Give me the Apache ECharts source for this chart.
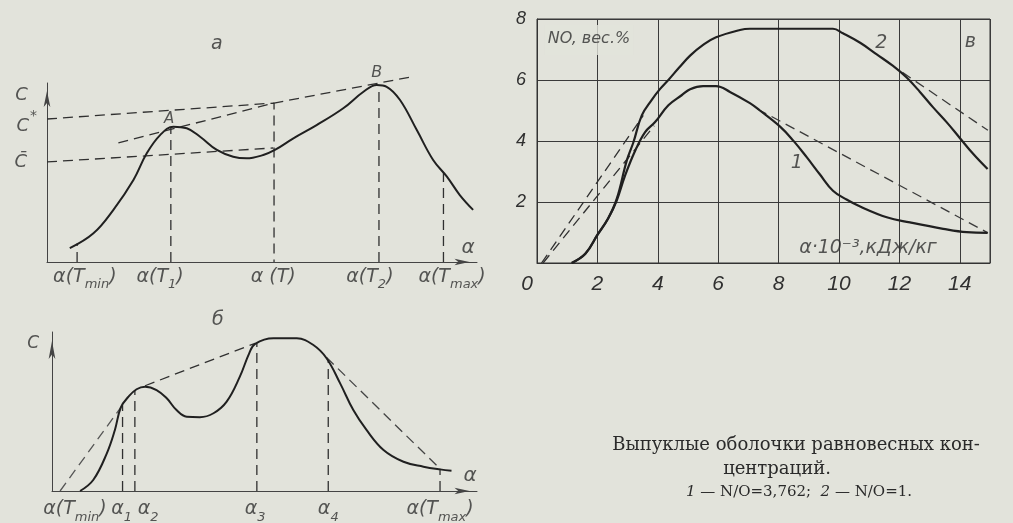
<!DOCTYPE html>
<html>
<head>
<meta charset="utf-8">
<script src="https://cdn.jsdelivr.net/npm/echarts@6/dist/echarts.min.js"></script>
<style>
  html, body { margin: 0; padding: 0; background: #e2e3db; }
  #chart { width: 1013px; height: 523px; }
</style>
</head>
<body>
<div id="chart"></div>
<script>
// ---------- а: concentration vs. α, two maxima A and B (arbitrary units) ----------
const curveA = [[0.53,0.77],[1.08,1.6],[1.54,2.9],[2.01,4.58],[2.32,6.07],[2.63,7.09],[2.94,7.56],[3.25,7.47],[3.56,7.0],[3.95,6.26],[4.33,5.88],[4.64,5.79],[5.03,5.98],[5.30,6.26],[5.73,6.91],[6.27,7.65],[6.89,8.59],[7.36,9.51],[7.67,9.89],[7.9,9.79],[8.21,9.05],[8.6,7.37],[8.98,5.70],[9.3,4.77],[9.6,3.74],[9.91,2.91]];
const levelCStar = [[0, 7.99], [5.28, 8.88], [5.28, 0]];
const levelCBar = [[0, 5.59], [5.26, 6.37]];
const chordAB = [[1.66, 6.66], [5.28, 8.88], [8.44, 10.33]];
const dropsAX = [0.70, 2.88, 7.72, 9.22];
const dropsATop = [1.03, 7.5, 9.85, 5.0];
const ticksAX = [0.88, 2.63, 5.26, 7.51, 9.42];
const ticksAText = [
  '{m|α(T}{s|min}{m|)}',
  '{m|α(T}{s|1}{m|)}',
  '{m|α (T)}',
  '{m|α(T}{s|2}{m|)}',
  '{m|α(T}{s|max}{m|)}'
];

// ---------- б: convex hull of a curve with two maxima ----------
const curveB = [[0.66,0],[0.97,0.69],[1.29,2.37],[1.48,3.84],[1.62,5.26],[1.80,5.93],[1.99,6.40],[2.19,6.56],[2.46,6.35],[2.70,5.83],[2.93,5.09],[3.17,4.67],[3.48,4.64],[3.80,4.89],[4.11,5.62],[4.42,7.19],[4.64,8.66],[4.78,9.25],[5.21,9.60],[5.76,9.60],[6.15,9.18],[6.46,8.35],[6.78,6.77],[7.09,5.09],[7.40,3.84],[7.80,2.58],[8.27,1.84],[8.74,1.53],[9.13,1.36],[9.40,1.28]];
const hullB1 = [[0.19, 0], [1.62, 5.26]];
const hullB2 = [[2.19, 6.62], [4.78, 9.29]];
const hullB3 = [[6.46, 8.40], [9.13, 1.40]];
const dropsBX = [1.66, 1.95, 4.82, 6.5, 9.13];
const dropsBTop = [5.4, 6.35, 9.3, 8.2, 1.40];
const ticksBX = [0.54, 1.64, 2.26, 4.78, 6.5, 9.13];
const ticksBText = [
  '{m|α(T}{s|min}{m|)}',
  '{m|α}{s|1}',
  '{m|α}{s|2}',
  '{m|α}{s|3}',
  '{m|α}{s|4}',
  '{m|α(T}{s|max}{m|)}'
];

// ---------- в: NO, wt.% vs. α·10⁻³, kJ/kg ----------
const energy = [0, 2, 4, 6, 8, 10, 12, 14];
const no1 = [[1.15,0],[1.6,0.3],[2.0,0.92],[2.35,1.45],[2.64,2.05],[2.91,2.85],[3.25,3.68],[3.58,4.29],[3.91,4.62],[4.35,5.17],[4.79,5.5],[5.07,5.7],[5.5,5.8],[5.93,5.8],[6.39,5.61],[7.05,5.24],[7.38,5.0],[8.05,4.47],[8.48,4.02],[8.93,3.47],[9.37,2.9],[9.8,2.37],[10.25,2.08],[10.7,1.85],[11.58,1.5],[12.35,1.33],[13.45,1.12],[14.23,1.01],[14.92,0.99]];
const no2 = [[1.15,0],[1.6,0.3],[2.0,0.92],[2.35,1.45],[2.64,2.1],[2.97,3.35],[3.19,3.95],[3.47,4.84],[3.8,5.35],[4.07,5.7],[4.35,6.0],[4.7,6.4],[5.07,6.8],[5.5,7.15],[5.93,7.4],[6.72,7.64],[7.05,7.68],[9.8,7.68],[10.13,7.53],[10.7,7.22],[11.25,6.84],[11.79,6.46],[12.24,6.08],[12.68,5.61],[13.11,5.11],[13.57,4.61],[14.0,4.1],[14.44,3.58],[14.92,3.08]];
const hull1Rise = [[0.2, 0], [3.88, 4.5]];
const hull2Rise = [[0.15, 0], [3.52, 4.84]];
const hull1Fall = [[7.3, 5.05], [14.93, 0.99]];
const hull2Fall = [[12.1, 6.25], [14.93, 4.35]];

const FONT = '"DejaVu Sans", Verdana, sans-serif';
const NUMFONT = '"Liberation Sans", Arial, sans-serif';
const INK = '#202020';
const TXT = '#303030';
const PAPER = '#e2e3db';

const chart = echarts.init(document.getElementById('chart'), null, { renderer: 'canvas' });

function solid(g, data, width) {
  return {
    type: 'line', xAxisIndex: g, yAxisIndex: g, data, symbol: 'none', silent: true, clip: false,
    smooth: 0.4, z: 4,
    lineStyle: { color: INK, width: width || 2 }
  };
}
function dashed(g, data, color) {
  return {
    type: 'line', xAxisIndex: g, yAxisIndex: g, data, symbol: 'none', silent: true, clip: false, z: 3,
    lineStyle: { color: color || '#303030', width: 1.3, type: [10, 6] }
  };
}
function drops(g, xs, tops) {
  return xs.map((x, i) => dashed(g, [[x, 0], [x, tops[i]]]));
}
// all tokens hang from the line bottom; bottom padding lifts the main glyphs above the subscripts
const SUBRICH = {
  m: { fontFamily: FONT, fontStyle: 'italic', fontSize: 19, verticalAlign: 'bottom', padding: [0, 0, 5, 0], color: TXT },
  s: { fontFamily: FONT, fontStyle: 'italic', fontSize: 13, verticalAlign: 'bottom', color: TXT },
  c: { fontFamily: FONT, fontStyle: 'italic', fontSize: 18, verticalAlign: 'bottom', color: TXT },
  p: { fontFamily: FONT, fontStyle: 'italic', fontSize: 14, verticalAlign: 'bottom', padding: [0, 0, 12, 1], color: TXT }
};
// text anchored at data coordinates: [x, y, text, fontSize, extra label options]
function texts(g, items) {
  return {
    type: 'scatter', xAxisIndex: g, yAxisIndex: g, silent: true, clip: false, symbolSize: 1, z: 6,
    itemStyle: { color: 'rgba(0,0,0,0)' },
    label: { show: true, position: 'inside', color: TXT, fontFamily: FONT, fontStyle: 'italic', fontSize: 18, rich: SUBRICH },
    data: items.map(it => ({
      value: [it[0], it[1]],
      label: Object.assign({ formatter: it[2], fontSize: it[3] || 18 }, it[4] || {})
    }))
  };
}

const schematicAxis = (g, arrowLen) => ({
  gridIndex: g, type: 'value', min: 0, max: 10,
  axisLine: { show: true, symbol: ['none', 'arrow'], symbolSize: [5, arrowLen], symbolOffset: [0, -arrowLen / 2],
              lineStyle: { color: '#444', width: 1 } },
  axisTick: { show: false }, axisLabel: { show: false }, splitLine: { show: false }
});

const series = [
  // а
  solid(0, curveA),
  dashed(0, levelCStar), dashed(0, levelCBar), dashed(0, chordAB),
  ...drops(0, dropsAX, dropsATop),
  texts(0, [
    ...ticksAX.map((x, i) => [x, -0.98, ticksAText[i], 19]),
    [-0.59, 9.33, 'C', 18],
    [-0.47, 7.8, '{c|C}{p|*}', 18],
    [-0.61, 5.55, 'C\u0304', 18],
    [2.84, 7.99, 'A', 15],
    [7.67, 10.54, 'B', 16],
    [9.79, 0.8, 'α', 20],
    [3.95, 12.2, 'а', 19]
  ]),
  // б
  solid(1, curveB),
  dashed(1, hullB1, '#555'), dashed(1, hullB2), dashed(1, hullB3, '#444'),
  ...drops(1, dropsBX, dropsBTop),
  texts(1, [
    ...ticksBX.map((x, i) => [x, -1.3, ticksBText[i], 19]),
    [-0.44, 9.29, 'C', 17],
    [3.9, 10.75, 'б', 19],
    [9.84, 0.95, 'α', 20]
  ]),
  // в
  solid(2, no1, 2.2), solid(2, no2, 2.2),
  dashed(2, hull1Rise), dashed(2, hull2Rise), dashed(2, hull1Fall, '#3a3a3a'), dashed(2, hull2Fall, '#3a3a3a'),
  texts(2, [
    [1.72, 7.31, '{n|NO,} вес.%', 16, { backgroundColor: PAPER, padding: [6, 3, 8, 3],
      rich: { n: { fontFamily: FONT, fontSize: 16, color: TXT } } }],
    [11.4, 7.2, '2', 19],
    [8.6, 3.28, '1', 19],
    [14.35, 7.25, 'в', 19],
    [10.96, 0.5, 'α·10⁻³,кДж/кг', 19]
  ])
];

chart.setOption({
  backgroundColor: PAPER,
  animation: false,
  grid: [
    { left: 47, top: 83, width: 430, height: 179, outerBoundsMode: 'none' },
    { left: 52, top: 332, width: 425, height: 159, outerBoundsMode: 'none' },
    { left: 537, top: 19, width: 453, height: 244, outerBoundsMode: 'none',
      show: true, borderColor: '#333', borderWidth: 1, backgroundColor: 'transparent' }
  ],
  xAxis: [
    schematicAxis(0, 15),
    schematicAxis(1, 15),
    {
      gridIndex: 2, type: 'value', min: 0, max: 15, interval: 2,
      axisLine: { show: true, lineStyle: { color: '#333', width: 1 } },
      axisTick: { show: false },
      splitLine: { show: true, lineStyle: { color: '#3a3a3a', width: 1 } },
      axisLabel: {
        margin: 11, color: TXT, fontFamily: NUMFONT, fontStyle: 'italic', fontSize: 21,
        formatter: v => energy.indexOf(v) < 0 ? '' : (v === 0 ? '{z|0}' : String(v)),
        rich: { z: { fontFamily: NUMFONT, fontStyle: 'italic', fontSize: 21, color: TXT, padding: [0, 20, 0, 0] } }
      }
    }
  ],
  yAxis: [
    schematicAxis(0, 16),
    schematicAxis(1, 18),
    {
      gridIndex: 2, type: 'value', min: 0, max: 8, interval: 2,
      axisLine: { show: true, lineStyle: { color: '#333', width: 1 } },
      axisTick: { show: false },
      splitLine: { show: true, lineStyle: { color: '#3a3a3a', width: 1 } },
      axisLabel: {
        margin: 11, color: TXT, fontFamily: NUMFONT, fontStyle: 'italic', fontSize: 18,
        formatter: v => (v === 0 ? '' : String(v))
      }
    }
  ],
  series,
  graphic: [
    { type: 'text', x: 796, y: 445, silent: true,
      style: { text: 'Выпуклые оболочки равновесных кон-', fill: '#2a2a2a', font: '18px "DejaVu Serif", serif',
               textAlign: 'center', textVerticalAlign: 'middle' } },
    { type: 'text', x: 777, y: 469, silent: true,
      style: { text: 'центраций.', fill: '#2a2a2a', font: '18px "DejaVu Serif", serif',
               textAlign: 'center', textVerticalAlign: 'middle' } },
    { type: 'text', x: 799, y: 492, silent: true,
      style: { text: '{i|1} — N/O=3,762;  {i|2} — N/O=1.', fill: '#2a2a2a', font: '15px "DejaVu Serif", serif',
               textAlign: 'center', textVerticalAlign: 'middle',
               rich: { i: { font: 'italic 15px "DejaVu Serif", serif', fill: '#2a2a2a' } } } }
  ]
});
</script>
</body>
</html>
